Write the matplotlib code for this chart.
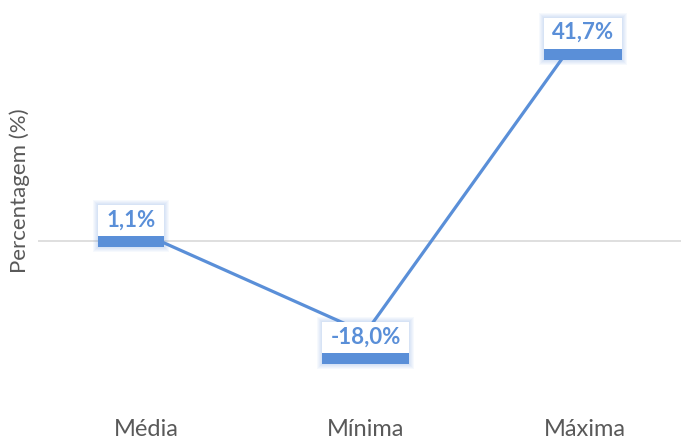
import matplotlib
matplotlib.use("Agg")
import matplotlib.pyplot as plt
from matplotlib.patches import Rectangle
from matplotlib.transforms import IdentityTransform

# Chart data
categories = ["Média", "Mínima", "Máxima"]
values = [1.1, -18.0, 41.7]
value_labels = ["1,1%", "-18,0%", "41,7%"]
# label offsets from their points, in pixels (dx right, dy up)
label_offsets = [(-15, 15), (0, -4), (-2, -6)]

BLUE = "#5A8FD8"
GREY_TEXT = "#595959"
FONT = ["Lato", "DejaVu Sans"]

W, H = 681, 440
fig = plt.figure(figsize=(W / 100, H / 100), dpi=100)

# axes geometry in pixels
left_px, right_px = 38, 681
top_px, bottom_px = 9.65, 394.4
ax = fig.add_axes([left_px / W, 1 - bottom_px / H,
                   (right_px - left_px) / W, (bottom_px - top_px) / H])

x = list(range(len(categories)))
ax.plot(x, values, color=BLUE, lw=2.3, solid_capstyle="butt", zorder=3)
ax.axhline(0, color="#d9d9d9", lw=1.2, zorder=1)

ax.set_ylim(-30, 45)
ax.set_xlim(-0.492, 2.437)
ax.set_yticks([])
ax.set_xticks(x)
ax.set_xticklabels(categories, fontsize=17, color=GREY_TEXT, family=FONT)
ax.tick_params(axis="x", length=0, pad=18)
for s in ax.spines.values():
    s.set_visible(False)

fig.text(20 / W, 1 - 191 / H, "Percentagem (%)", rotation=90, ha="center",
         va="center", fontsize=16, color=GREY_TEXT, family=FONT)

fig.canvas.draw()
renderer = fig.canvas.get_renderer()
ident = IdentityTransform()

for xi, v, lab, (dx, dy) in zip(x, values, value_labels, label_offsets):
    px, py = ax.transData.transform((xi, v))
    cx, cy = px + dx, py + dy
    t = fig.text(cx, cy, lab, transform=ident, ha="center", va="center",
                 fontsize=16, fontweight="bold", color=BLUE, family=FONT,
                 zorder=12)
    bb = t.get_window_extent(renderer)
    hw = bb.width / 2 + 8
    top = cy + 15
    band_top = cy - 16
    band_bot = cy - 27
    # soft glow around the callout
    for g in range(1, 6):
        fig.patches.append(Rectangle((cx - hw - g, band_bot - g), 2 * hw + 2 * g,
                                     top - band_bot + 2 * g, transform=ident,
                                     facecolor=BLUE, edgecolor="none",
                                     alpha=0.05, zorder=9))
    fig.patches.append(Rectangle((cx - hw, band_top), 2 * hw, top - band_top,
                                 transform=ident, facecolor="white",
                                 edgecolor="none", zorder=10))
    fig.patches.append(Rectangle((cx - hw, band_bot), 2 * hw, band_top - band_bot,
                                 transform=ident, facecolor=BLUE,
                                 edgecolor="none", zorder=10))

fig.savefig("out.png", dpi=100)
